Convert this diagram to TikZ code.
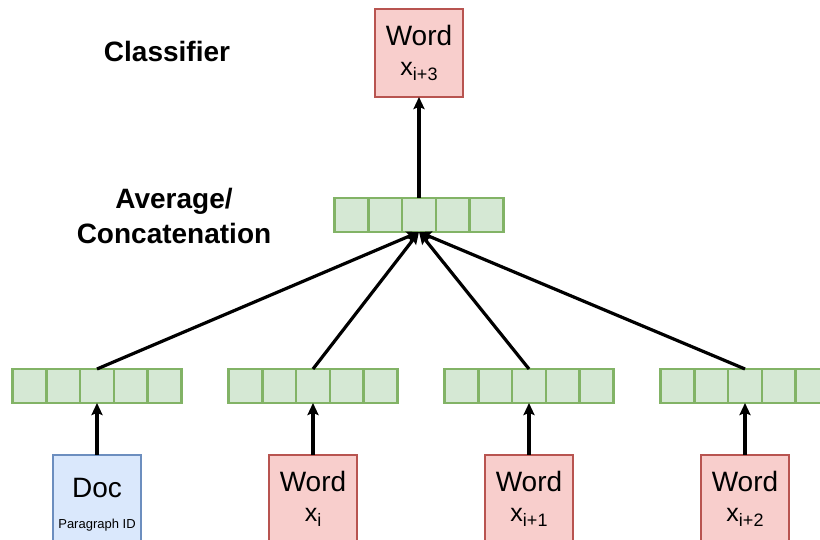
\documentclass[tikz,border=0pt]{standalone}
\usepackage{fontspec}
\setmainfont{Liberation Sans}
\usetikzlibrary{arrows.meta}
\definecolor{cellfill}{HTML}{D5E8D4}
\definecolor{celldraw}{HTML}{82B366}
\definecolor{wordfill}{HTML}{F8CECC}
\definecolor{worddraw}{HTML}{B85450}
\definecolor{docfill}{HTML}{DAE8FC}
\definecolor{docdraw}{HTML}{6C8EBF}
% x with a lowered index, as text (not math)
\newcommand\xsub[1]{{\fontsize{25}{29}\selectfont x\raisebox{-5pt}{\fontsize{18}{18}\selectfont #1}}}

\begin{document}
\begin{tikzpicture}[
    x=1pt, y=1pt,
    cell/.style={rectangle,draw=celldraw,fill=cellfill,line width=2.6pt,minimum width=33.7pt,minimum height=34pt,inner sep=0pt,outer sep=0pt},
    wordbox/.style={rectangle,draw=worddraw,fill=wordfill,line width=2.6pt,minimum size=88pt,inner sep=0pt,outer sep=0pt,align=center,font=\fontsize{28}{30}\selectfont},
    docbox/.style={wordbox,draw=docdraw,fill=docfill},
    label/.style={font=\fontsize{28}{35}\selectfont\bfseries,align=center},
    feed/.style={line width=3.2pt,-{Stealth[length=12pt,width=11pt,inset=2pt]}},
]
\useasboundingbox (0,0) rectangle (820,540);
\clip (0,0) rectangle (820,540);

% embedding vectors, five cells each
\foreach \name/\cx/\cy in {avg/419/325, doc/97/154, wa/313/154, wb/529/154, wc/745/154} {
    \foreach \k in {1,...,5}
        \node[cell] (\name-\k) at ({\cx+(\k-3)*33.7}, \cy) {};
}

% output word
\node[wordbox] (out) at (419,487) {Word\\\xsub{i+3}};

% inputs
\node[docbox] (docin) at (97,41) {\rule{0pt}{30pt}Doc\\[1pt]{\fontsize{13}{13}\selectfont Paragraph ID}};
\node[wordbox] (win-a) at (313,41) {Word\\\xsub{i}};
\node[wordbox] (win-b) at (529,41) {Word\\\xsub{i+1}};
\node[wordbox] (win-c) at (745,41) {Word\\\xsub{i+2}};

% side labels
\node[label] (clslabel) at (167,488) {Classifier};
\node[label] (avglabel) at (174,324) {Average/\\Concatenation};

% arrows
\draw[feed] (docin.north) -- (doc-3.south);
\draw[feed] (win-a.north) -- (wa-3.south);
\draw[feed] (win-b.north) -- (wb-3.south);
\draw[feed] (win-c.north) -- (wc-3.south);

\foreach \name in {doc, wa, wb, wc}
    \draw[feed] (\name-3.north) -- (avg-3.south);

\draw[feed] (avg-3.north) -- (out.south);
\end{tikzpicture}
\end{document}
